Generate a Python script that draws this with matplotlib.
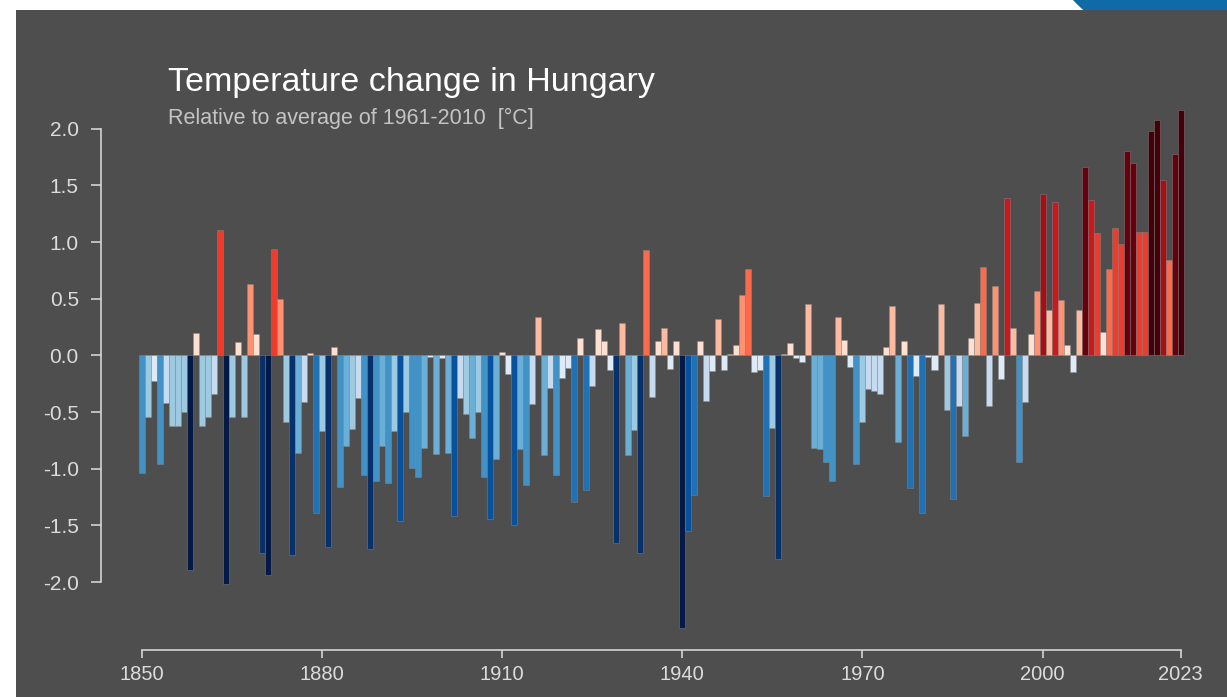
import numpy as np
import matplotlib
matplotlib.use("Agg")
import matplotlib.pyplot as plt
from matplotlib.patches import Rectangle, Circle
from matplotlib.transforms import IdentityTransform

plt.rcParams['font.family'] = ['Liberation Sans', 'DejaVu Sans']

# annual anomalies, 1850-2023 (deg C, relative to 1961-2010)
years = list(range(1850, 2024))
anomaly = [
    -1.04, -0.54, -0.23, -0.96, -0.42, -0.62, -0.62, -0.50, -1.89, 0.20,   # 1850s
    -0.62, -0.54, -0.34, 1.11, -2.02, -0.54, 0.12, -0.54, 0.63, 0.19,      # 1860s
    -1.74, -1.94, 0.94, 0.50, -0.59, -1.76, -0.86, -0.41, 0.02, -1.39,     # 1870s
    -0.67, -1.69, 0.07, -1.16, -0.80, -0.65, -0.38, -1.06, -1.71, -1.11,   # 1880s
    -0.80, -1.13, -0.67, -1.46, -0.50, -0.99, -1.07, -0.82, -0.01, -0.87,  # 1890s
    -0.02, -0.86, -1.42, -0.38, -0.52, -0.73, -0.50, -1.07, -1.44, -0.91,  # 1900s
    0.03, -0.16, -1.50, -0.83, -1.14, -0.43, 0.34, -0.88, -0.29, -1.06,    # 1910s
    -0.20, -0.11, -1.29, 0.15, -1.19, -0.27, 0.23, 0.13, -0.13, -1.66,     # 1920s
    0.29, -0.88, -0.66, -1.74, 0.93, -0.37, 0.13, 0.24, -0.12, 0.13,       # 1930s
    -2.41, -1.55, -1.23, 0.13, -0.40, -0.14, 0.32, -0.13, 0.01, 0.09,      # 1940s
    0.53, 0.76, -0.15, -0.13, -1.24, -0.64, -1.80, 0.01, 0.11, -0.02,      # 1950s
    -0.06, 0.45, -0.82, -0.83, -0.94, -1.11, 0.34, 0.14, -0.10, -0.96,     # 1960s
    -0.59, -0.30, -0.31, -0.34, 0.07, 0.44, -0.76, 0.13, -1.17, -0.18,     # 1970s
    -1.39, -0.01, -0.13, 0.45, -0.48, -1.27, -0.45, -0.71, 0.15, 0.46,     # 1980s
    0.78, -0.45, 0.61, -0.21, 1.39, 0.24, -0.94, -0.41, 0.19, 0.57,        # 1990s
    1.42, 0.40, 1.35, 0.49, 0.09, -0.15, 0.40, 1.66, 1.37, 1.08,           # 2000s
    0.21, 0.76, 1.12, 0.98, 1.80, 1.70, 1.09, 1.09, 1.98, 2.08,            # 2010s
    1.55, 0.84, 1.78, 2.17,                                                # 2020s
]

x_ticks = [1850, 1880, 1910, 1940, 1970, 2000, 2023]
y_ticks = [-2.0, -1.5, -1.0, -0.5, 0.0, 0.5, 1.0, 1.5, 2.0]

# stripes palette, coldest -> warmest
stripe_colors = [
    '#021a45', '#08306b', '#08519c', '#2171b5', '#4292c6', '#6baed6',
    '#9ecae1', '#c6dbef', '#deebf7',
    '#fee0d2', '#fcbba1', '#fc9272', '#fb6a4a', '#ef3b2c', '#cb181d',
    '#a50f15', '#67000d', '#430008',
]

vals = np.array(anomaly)
bounds = np.linspace(-2.1, 2.1, len(stripe_colors) + 1)
idx = np.clip(np.digitize(vals, bounds[1:-1]), 0, len(stripe_colors) - 1)
bar_colors = [stripe_colors[i] for i in idx]

W, H = 1227, 697
fig = plt.figure(figsize=(W / 100, H / 100), dpi=100, facecolor='white')

# logo peeking in at top right, then the dark panel (both behind the axes)
logo = Circle((1181, H + 101), 150, transform=IdentityTransform(),
              facecolor='#0f6aa6', edgecolor='white', lw=3, zorder=-3)
fig.patches.append(logo)
panel = Rectangle((16 / W, 0), 1 - 16 / W, 1 - 10 / H, transform=fig.transFigure,
                  facecolor='#4e4e4e', edgecolor='none', zorder=-2)
fig.patches.append(panel)

ax = fig.add_axes([101 / W, 1 - 650 / H, 0.8947, 0.7966])
ax.set_facecolor('none')
ax.bar(years, vals, width=1.0, color=bar_colors,
       edgecolor=(0.55, 0.55, 0.55, 0.6), linewidth=0.5)

ax.set_xlim(1843.24, 2026)
ax.set_ylim(-2.6, 2.3)

axis_col = '#d4d4d4'
for side in ['top', 'right']:
    ax.spines[side].set_visible(False)
ax.spines['left'].set_bounds(-2, 2)
ax.spines['bottom'].set_bounds(1850, 2023)
for side in ['left', 'bottom']:
    ax.spines[side].set_color(axis_col)
    ax.spines[side].set_linewidth(1.2)

ax.set_xticks(x_ticks)
ax.set_xticklabels([str(y) for y in x_ticks])
ax.set_yticks(y_ticks)
ax.set_yticklabels([f"{v:.1f}" for v in y_ticks])
ax.tick_params(axis='x', colors=axis_col, length=6, width=1.2, pad=5, labelsize=14.5,
               labelcolor='#dcdcdc')
ax.tick_params(axis='y', colors=axis_col, length=7, width=1.2, pad=9, labelsize=15,
               labelcolor='#dcdcdc')

fig.text(168 / W, 1 - 91 / H, "Temperature change in Hungary", color='white',
         fontsize=24.5, va='baseline', ha='left')
fig.text(168 / W, 1 - 124 / H, "Relative to average of 1961-2010  [°C]", color='#c4c4c4',
         fontsize=15.5, va='baseline', ha='left')

fig.savefig("out.png", dpi=100, facecolor=fig.get_facecolor())
